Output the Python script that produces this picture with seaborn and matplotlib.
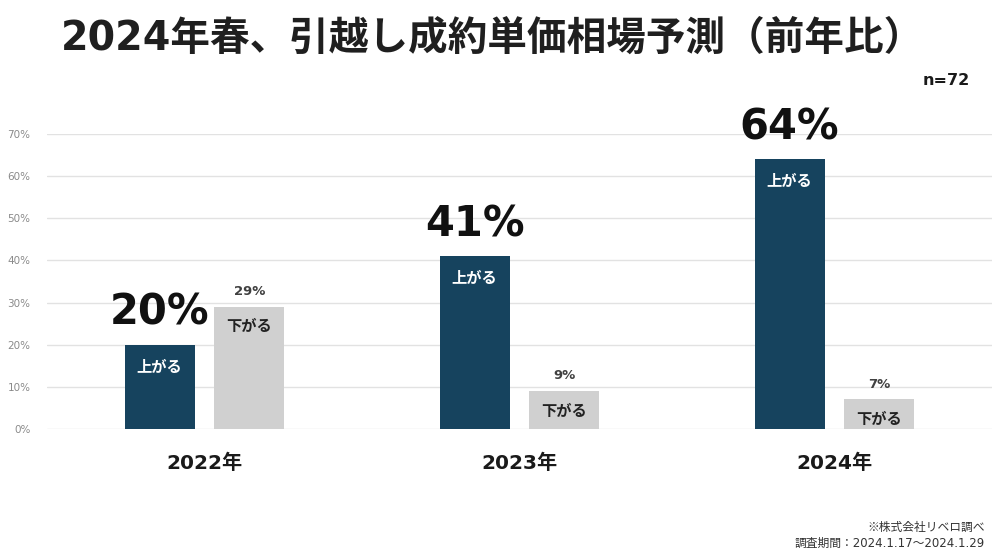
import matplotlib
matplotlib.use("Agg")
import matplotlib.pyplot as plt
import seaborn as sns
import pandas as pd

years = ["2022年", "2023年", "2024年"]
up_values = [20, 41, 64]
down_values = [29, 9, 7]
series_labels = ["上がる", "下がる"]
yticks = [0, 10, 20, 30, 40, 50, 60, 70]

sns.set_theme(style="white")
FAM = ['DejaVu Sans', 'Noto Sans CJK JP']
JP = ['Noto Sans CJK JP', 'DejaVu Sans']
plt.rcParams['font.family'] = FAM

df = pd.DataFrame({
    "year": years * 2,
    "value": up_values + down_values,
    "dir": [series_labels[0]] * 3 + [series_labels[1]] * 3,
})

NAVY = "#16435e"
GRAY = "#d0d0d0"

fig = plt.figure(figsize=(10, 5.58), dpi=100)
ax = fig.add_axes([0.047, 0.2312, 0.945, 0.5287])

sns.barplot(data=df, x="year", y="value", hue="dir", order=years,
            hue_order=series_labels, palette=[NAVY, GRAY], width=0.571,
            gap=0.222, legend=False, ax=ax, saturation=1, zorder=3,
            linewidth=0, edgecolor="none")

ax.set_ylim(0, 70)
ax.set_xlim(-0.5, 2.5)
ax.set_yticks(yticks)
ax.set_yticklabels([f"{v}%" for v in yticks], color="#8a8a8a", fontsize=7.5)
ax.yaxis.grid(True, color="#e2e2e2", linewidth=1, zorder=0)
ax.set_axisbelow(True)
for s in ax.spines.values():
    s.set_visible(False)
ax.tick_params(axis="y", length=0, pad=12)
ax.tick_params(axis="x", length=0, pad=18)
ax.set_xlabel("")
ax.set_ylabel("")
for lbl in ax.get_xticklabels():
    lbl.set_fontsize(14.5)
    lbl.set_fontweight("bold")
    lbl.set_color("#1a1a1a")

up_bars = ax.containers[0]
down_bars = ax.containers[1]

for bar, v in zip(up_bars, up_values):
    cx = bar.get_x() + bar.get_width() / 2
    top = bar.get_height()
    ax.annotate(f"{v}%", (cx, top), xytext=(0, 8), textcoords="offset points",
                ha="center", va="bottom", fontsize=30, fontweight="bold",
                color="#111111")
    ax.annotate(series_labels[0], (cx, top), xytext=(0, -16), textcoords="offset points",
                ha="center", va="center", fontsize=11, fontweight="bold", color="white",
                family=JP)

for bar, v in zip(down_bars, down_values):
    cx = bar.get_x() + bar.get_width() / 2
    top = bar.get_height()
    ax.annotate(f"{v}%", (cx, top), xytext=(0, 11), textcoords="offset points",
                ha="center", va="center", fontsize=9.5, fontweight="bold", color="#404040")
    ax.annotate(series_labels[1], (cx, top), xytext=(0, -14), textcoords="offset points",
                ha="center", va="center", fontsize=11, fontweight="bold", color="#222222",
                family=JP)

fig.text(0.492, 0.93, "2024年春、引越し成約単価相場予測（前年比）", ha="center", va="center",
         fontsize=28.5, fontweight="bold", color="#1f1f1f")
fig.text(0.946, 0.856, "n=72", ha="center", va="center", fontsize=11.5,
         fontweight="bold", color="#1a1a1a")
fig.text(0.985, 0.055, "※株式会社リベロ調べ", ha="right", va="center", fontsize=8.5,
         color="#333333", family=JP)
fig.text(0.985, 0.026, "調査期間：2024.1.17～2024.1.29", ha="right", va="center",
         fontsize=8.5, color="#333333")

fig.savefig("out.png", dpi=100, facecolor="white")
